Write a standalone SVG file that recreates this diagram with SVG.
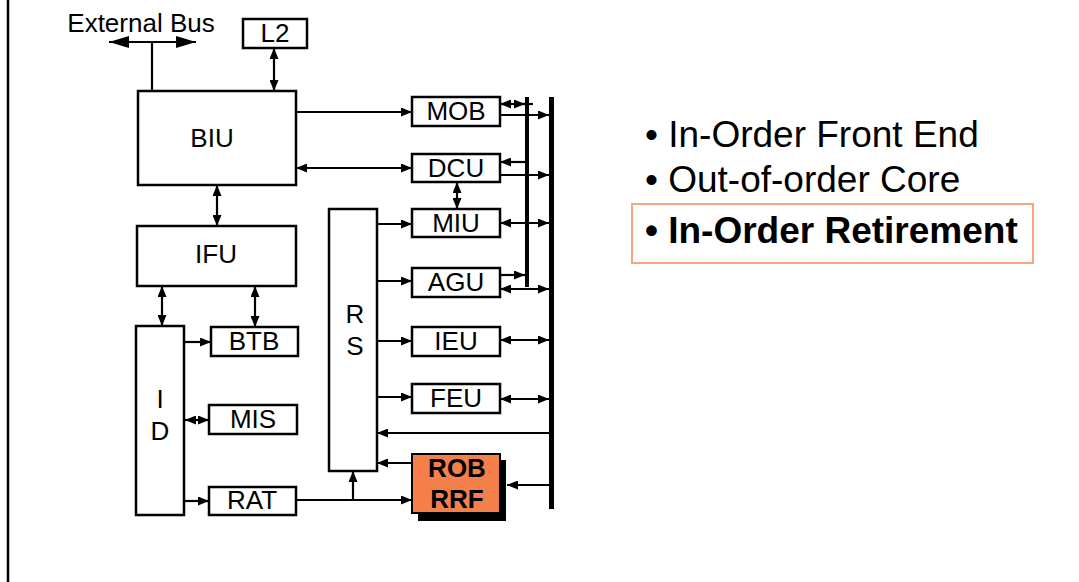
<svg xmlns="http://www.w3.org/2000/svg" width="1079" height="582" viewBox="0 0 1079 582">
<style>
.box{fill:#fff;stroke:#000;stroke-width:2.5}
.lbl{font-family:"Liberation Sans",Arial,sans-serif;font-size:26px;fill:#000;text-anchor:middle}
.bold{font-weight:bold}
.c{stroke:#000;stroke-width:2.2;fill:none}
.a1{marker-end:url(#ah)}
.a2{marker-start:url(#ah);marker-end:url(#ah)}
.bul{font-family:"Liberation Sans",Arial,sans-serif;font-size:37px;fill:#000}
</style>
<defs>
<marker id="ah" markerUnits="userSpaceOnUse" markerWidth="11" markerHeight="9" refX="11" refY="4.5" orient="auto-start-reverse"><path d="M0,0 L11,4.5 L0,9 z" fill="#000"/></marker>
<marker id="big" markerUnits="userSpaceOnUse" markerWidth="20" markerHeight="12" refX="20" refY="6" orient="auto-start-reverse"><path d="M0,0 L20,6 L0,12 z" fill="#000"/></marker>
</defs>
<rect width="1079" height="582" fill="#fff"/>
<line x1="8" y1="0" x2="8" y2="582" stroke="#000" stroke-width="2.5"/>

<g id="connectors">
<line class="c" x1="109" y1="42" x2="196" y2="42" marker-start="url(#big)" marker-end="url(#big)"/>
<line class="c" x1="152" y1="42" x2="152" y2="91"/>
<line class="c a2" x1="274" y1="48" x2="274" y2="91"/>
<line class="c a1" x1="296" y1="112" x2="412" y2="112"/>
<line class="c a2" x1="296" y1="168" x2="412" y2="168"/>
<line class="c a2" x1="457" y1="182" x2="457" y2="209"/>
<line class="c a2" x1="217" y1="185" x2="217" y2="226"/>
<line class="c a2" x1="162" y1="286" x2="162" y2="326"/>
<line class="c a2" x1="255" y1="286" x2="255" y2="327"/>
<line class="c a1" x1="184" y1="342" x2="211" y2="342"/>
<line class="c a2" x1="185" y1="420" x2="209" y2="420"/>
<line class="c a1" x1="184" y1="501" x2="209" y2="501"/>
<line class="c a1" x1="297" y1="500" x2="412" y2="500"/>
<line class="c a1" x1="353" y1="500" x2="353" y2="471"/>
<line class="c a1" x1="377" y1="224" x2="412" y2="224"/>
<line class="c a1" x1="377" y1="281" x2="412" y2="281"/>
<line class="c a1" x1="377" y1="341" x2="412" y2="341"/>
<line class="c a1" x1="377" y1="397" x2="412" y2="397"/>
<line class="c a1" x1="551" y1="433" x2="377" y2="433"/>
<line class="c a1" x1="412" y1="463" x2="377" y2="463"/>
<line class="c a1" x1="551" y1="485" x2="507" y2="485"/>
<line class="c" x1="520" y1="104" x2="533" y2="104"/>
<line class="c a2" x1="500" y1="104" x2="525" y2="104"/>
<line class="c a1" x1="500" y1="115" x2="549" y2="115"/>
<line class="c a1" x1="527" y1="162" x2="500" y2="162"/>
<line class="c a1" x1="500" y1="175" x2="549" y2="175"/>
<line class="c a2" x1="500" y1="223" x2="549" y2="223"/>
<line class="c a1" x1="500" y1="275" x2="525" y2="275"/>
<line class="c a2" x1="500" y1="289" x2="549" y2="289"/>
<line class="c a2" x1="500" y1="340" x2="549" y2="340"/>
<line class="c a2" x1="500" y1="399" x2="549" y2="399"/>
</g>

<g id="buses">
<rect x="525" y="97" width="4" height="190" fill="#000"/>
<rect x="549" y="97" width="5" height="412" fill="#000"/>
</g>

<g id="extbus"><text class="lbl" x="141" y="32">External Bus</text></g>
<g id="L2"><rect class="box" x="243" y="19" width="64" height="29"/><text class="lbl" x="275" y="42">L2</text></g>
<g id="BIU"><rect class="box" x="138" y="91" width="158" height="94"/><text class="lbl" x="212" y="147">BIU</text></g>
<g id="IFU"><rect class="box" x="137" y="226" width="159" height="60"/><text class="lbl" x="216" y="263">IFU</text></g>
<g id="ID"><rect class="box" x="136" y="326" width="48" height="189"/><text class="lbl" x="160" y="408">I</text><text class="lbl" x="160" y="440">D</text></g>
<g id="BTB"><rect class="box" x="211" y="327" width="87" height="29"/><text class="lbl" x="254" y="350">BTB</text></g>
<g id="MIS"><rect class="box" x="209" y="405" width="88" height="29"/><text class="lbl" x="253" y="428">MIS</text></g>
<g id="RAT"><rect class="box" x="209" y="487" width="87" height="28"/><text class="lbl" x="252" y="509">RAT</text></g>
<g id="RS"><rect class="box" x="329" y="209" width="48" height="262"/><text class="lbl" x="355" y="323">R</text><text class="lbl" x="355" y="355">S</text></g>
<g id="MOB"><rect class="box" x="412" y="97" width="88" height="29"/><text class="lbl" x="456" y="120">MOB</text></g>
<g id="DCU"><rect class="box" x="412" y="154" width="88" height="28"/><text class="lbl" x="456" y="177">DCU</text></g>
<g id="MIU"><rect class="box" x="412" y="209" width="88" height="28"/><text class="lbl" x="456" y="232">MIU</text></g>
<g id="AGU"><rect class="box" x="412" y="268" width="88" height="29"/><text class="lbl" x="456" y="291">AGU</text></g>
<g id="IEU"><rect class="box" x="412" y="327" width="88" height="29"/><text class="lbl" x="456" y="350">IEU</text></g>
<g id="FEU"><rect class="box" x="412" y="384" width="88" height="29"/><text class="lbl" x="456" y="407">FEU</text></g>
<g id="ROB">
<rect x="418" y="460" width="88" height="61" fill="#000"/>
<rect x="412" y="454" width="88" height="59" fill="#F47F4A" stroke="#000" stroke-width="2"/>
<text class="lbl bold" x="457" y="477">ROB</text><text class="lbl bold" x="457" y="508">RRF</text>
</g>

<g id="bullets">
<text class="bul" x="645" y="147">• In-Order Front End</text>
<text class="bul" x="645" y="192">• Out-of-order Core</text>
<rect x="632" y="204" width="401" height="59" fill="none" stroke="#F8A47F" stroke-width="2"/>
<text class="bul bold" x="645" y="243">• In-Order Retirement</text>
</g>
</svg>
